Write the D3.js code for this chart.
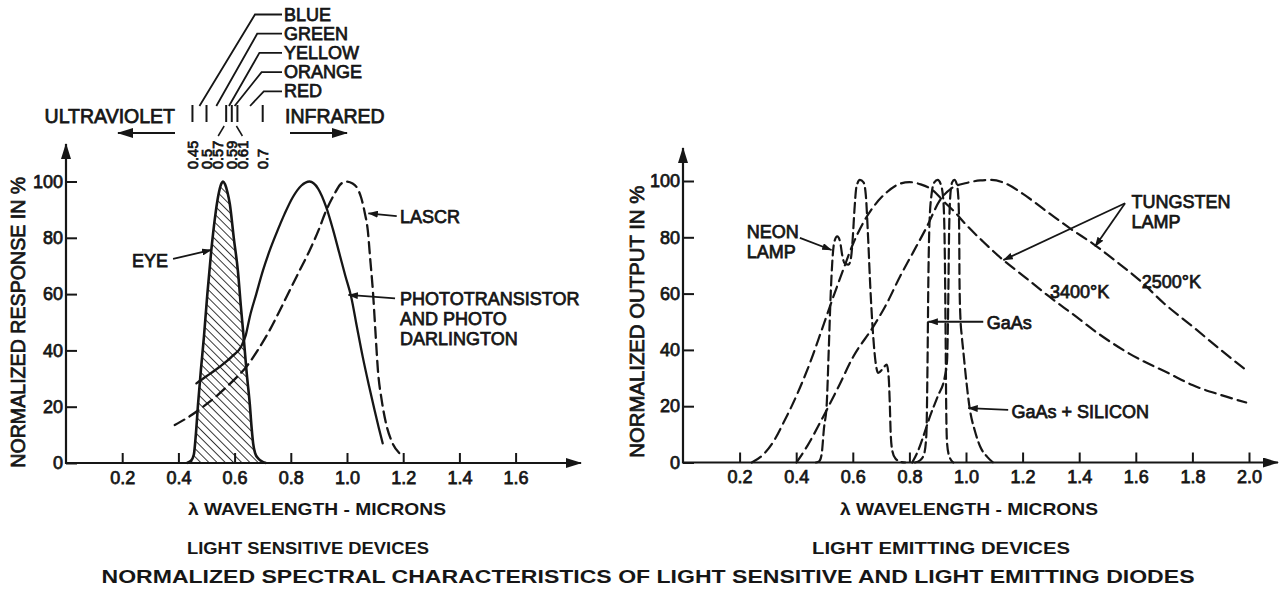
<!DOCTYPE html>
<html>
<head>
<meta charset="utf-8">
<script src="https://cdn.jsdelivr.net/npm/d3@7"></script>
<style>
body { margin: 0; background: #fff; }
svg text { font-family: "Liberation Sans", Arial, sans-serif; fill: #161616; }
.lbl { stroke: #161616; stroke-width: 0.75px; }
.cond { font-family: "Liberation Sans Narrow", "Liberation Sans", Arial, sans-serif; font-weight: bold; }
</style>
</head>
<body>
<div id="chart"></div>
<script>
// tick values
var yTicks = [0, 20, 40, 60, 80, 100];
var leftXTicks = [0.2, 0.4, 0.6, 0.8, 1.0, 1.2, 1.4, 1.6];
var rightXTicks = [0.2, 0.4, 0.6, 0.8, 1.0, 1.2, 1.4, 1.6, 1.8, 2.0];

// visible spectrum bands (microns)
var bandEdges = [0.45, 0.5, 0.57, 0.59, 0.61, 0.7];
var colorNames = ["BLUE", "GREEN", "YELLOW", "ORANGE", "RED"];

// light sensitive devices: [wavelength, response %]
var eyeCurve = [[0.43,0],[0.445,0.8],[0.455,3],[0.462,10],[0.47,21],[0.48,33],[0.491,45],[0.503,60],
    [0.517,75.5],[0.53,87],[0.542,95],[0.552,99],[0.559,100],[0.566,99],[0.575,96],[0.583,92],[0.597,80],
    [0.612,68],[0.622,56],[0.632,45],[0.643,32],[0.654,21],[0.661,12],[0.666,7],[0.673,3.5],[0.685,1.5],
    [0.7,0.4],[0.712,0]];
var phototransistorCurve = [[0.464,28.3],[0.5,30.8],[0.547,34.2],[0.59,37.8],[0.624,41.5],[0.64,45.5],
    [0.654,51.9],[0.677,60],[0.701,68.4],[0.725,75.5],[0.748,81.4],[0.778,88.5],[0.807,94.4],[0.837,98.5],
    [0.867,100],[0.897,97.5],[0.926,90.9],[0.95,83],[0.973,74.4],[0.994,66.5],[1.015,59],[1.035,48.5],
    [1.056,37.7],[1.077,28],[1.098,18.8],[1.113,12.5],[1.127,7]];
var lascrCurve = [[0.387,13.5],[0.44,16.6],[0.488,20],[0.53,23.3],[0.571,27],[0.608,30.5],[0.642,34.2],
    [0.685,40.5],[0.725,47.2],[0.76,54],[0.796,61.3],[0.832,68.5],[0.867,75.5],[0.9,83],[0.926,89.7],
    [0.955,95.5],[0.975,98.8],[0.997,100],[1.02,99.3],[1.04,97],[1.05,94.4],[1.063,89],[1.074,82.6],
    [1.083,72],[1.092,61.3],[1.101,47],[1.11,33],[1.124,22],[1.139,14],[1.16,7.5],[1.187,3.4]];

// light emitting devices: [wavelength, output %]
var neonCurve = [[0.47,0],[0.482,0.5],[0.49,3],[0.498,12],[0.508,21],[0.515,40],[0.522,60],[0.528,72],
    [0.535,78.5],[0.545,80.3],[0.555,78.5],[0.562,74],[0.572,70.6],[0.585,70.3],[0.594,73],[0.6,80],
    [0.606,90],[0.613,98],[0.625,100.4],[0.638,99.5],[0.646,95],[0.654,80],[0.662,62],[0.672,45],[0.68,36],
    [0.69,31.8],[0.705,33.2],[0.72,34.8],[0.727,30],[0.731,20],[0.734,10],[0.74,4],[0.75,1.5],[0.77,0.2],
    [0.785,0]];
var gaasCurve = [[0.82,0],[0.838,0.8],[0.852,3],[0.86,10],[0.864,35],[0.867,65],[0.871,85],[0.878,95],
    [0.888,99.5],[0.9,100.4],[0.912,98.5],[0.92,93],[0.925,75],[0.928,45],[0.93,20],[0.933,7],[0.94,2.5],
    [0.955,0]];
var gaasSiliconCurve = [[0.81,0],[0.83,4],[0.85,9.5],[0.872,16.2],[0.9,23.5],[0.925,30.4],[0.933,36],
    [0.937,55],[0.94,80],[0.944,94],[0.951,99.5],[0.959,100.4],[0.967,99],[0.973,94],[0.976,82],[0.977,65],
    [0.98,52],[0.985,45],[0.99,40],[1.0,30],[1.013,19.3],[1.032,11],[1.05,5.7],[1.075,2],[1.096,0]];
var tungsten3400Curve = [[0.243,0],[0.28,2.5],[0.32,7.5],[0.354,13.9],[0.4,23.5],[0.448,35.2],[0.49,47],
    [0.531,58.8],[0.568,69],[0.601,77.7],[0.636,85],[0.672,90.7],[0.72,96],[0.766,99],[0.8,99.6],
    [0.84,98.8],[0.884,96.6],[0.919,93],[0.96,89],[1.0,84.5],[1.06,78.5],[1.119,73],[1.2,66.5],
    [1.296,58.8],[1.38,52.5],[1.472,45.5],[1.58,38.5],[1.72,31.5],[1.8,27.5],[1.9,24],[1.99,21.3]];
var tungsten2500Curve = [[0.401,0],[0.44,6],[0.495,16.2],[0.55,27],[0.601,37.5],[0.672,48.2],[0.72,56.5],
    [0.766,65.9],[0.815,75],[0.861,83.6],[0.907,93],[0.95,97.5],[1.002,99.3],[1.05,100.2],[1.09,100.4],
    [1.143,99],[1.2,95.5],[1.296,88.4],[1.37,83],[1.449,77.7],[1.53,71.5],[1.614,64.7],[1.7,56.5],
    [1.802,48.2],[1.9,40],[1.99,32.8]];

function makeChart() {
    var ink = "#161616";
    var svg = d3
        .select("#chart")
        .append("svg")
        .attr("width", 1285)
        .attr("height", 590);

    var defs = svg.append("defs");
    defs.append("marker")
        .attr("id", "bigArrow")
        .attr("markerUnits", "userSpaceOnUse")
        .attr("markerWidth", 16)
        .attr("markerHeight", 10)
        .attr("refX", 15)
        .attr("refY", 5)
        .attr("orient", "auto")
        .append("path")
        .attr("d", "M0,0 L16,5 L0,10 Z")
        .attr("fill", ink);
    defs.append("marker")
        .attr("id", "ptr")
        .attr("markerUnits", "userSpaceOnUse")
        .attr("markerWidth", 10)
        .attr("markerHeight", 7)
        .attr("refX", 9.5)
        .attr("refY", 3.5)
        .attr("orient", "auto")
        .append("path")
        .attr("d", "M0,0 L10,3.5 L0,7 Z")
        .attr("fill", ink);
    defs.append("pattern")
        .attr("id", "hatch")
        .attr("patternUnits", "userSpaceOnUse")
        .attr("width", 5.8)
        .attr("height", 5.8)
        .attr("patternTransform", "rotate(-45)")
        .append("line")
        .attr("x1", 0).attr("y1", 0)
        .attr("x2", 0).attr("y2", 5.8)
        .attr("stroke", ink)
        .attr("stroke-width", 1.7);

    var xL = d3.scaleLinear().domain([0, 1]).range([66, 347]);
    var yL = d3.scaleLinear().domain([0, 100]).range([463, 181.5]);
    var xR = d3.scaleLinear().domain([0, 1]).range([683, 966]);
    var yR = d3.scaleLinear().domain([0, 100]).range([462.5, 181]);
    var fmt = d3.format(".1f");

    function drawAxes(x, y, xTicks, xEnd, yTop) {
        var gx = svg.append("g")
            .attr("transform", "translate(0," + y(0) + ")")
            .call(d3.axisBottom(x).tickValues(xTicks).tickFormat(fmt)
                .tickSizeInner(-10).tickSizeOuter(0).tickPadding(8));
        var gy = svg.append("g")
            .attr("transform", "translate(" + x(0) + ",0)")
            .call(d3.axisLeft(y).tickValues(yTicks)
                .tickSizeInner(-11).tickSizeOuter(0).tickPadding(3));
        [gx, gy].forEach((g) => {
            g.select(".domain").remove();
            g.attr("font-family", null);
            g.selectAll(".tick line").attr("stroke", ink).attr("stroke-width", 2);
            g.selectAll(".tick text")
                .attr("class", "lbl")
                .attr("font-size", 18);
        });

        svg.append("line")
            .attr("x1", x(0)).attr("y1", y(0))
            .attr("x2", xEnd).attr("y2", y(0))
            .attr("stroke", ink).attr("stroke-width", 2.2)
            .attr("marker-end", "url(#bigArrow)");
        svg.append("line")
            .attr("x1", x(0)).attr("y1", y(0) + 1)
            .attr("x2", x(0)).attr("y2", yTop)
            .attr("stroke", ink).attr("stroke-width", 2.2)
            .attr("marker-end", "url(#bigArrow)");
    }

    drawAxes(xL, yL, leftXTicks, 581, 144);
    drawAxes(xR, yR, rightXTicks, 1278, 148);

    // y axis titles
    svg.append("text")
        .attr("class", "lbl")
        .attr("transform", "translate(25," + (yL(0) + yL(100)) / 2 + ") rotate(-90)")
        .attr("text-anchor", "middle")
        .attr("font-size", 20)
        .attr("textLength", 291)
        .attr("lengthAdjust", "spacingAndGlyphs")
        .text("NORMALIZED RESPONSE IN %");
    svg.append("text")
        .attr("class", "lbl")
        .attr("transform", "translate(643.5," + (yR(0) + yR(100)) / 2 + ") rotate(-90)")
        .attr("text-anchor", "middle")
        .attr("font-size", 20)
        .attr("textLength", 272)
        .attr("lengthAdjust", "spacingAndGlyphs")
        .text("NORMALIZED OUTPUT IN %");

    // eye response, hatched
    var eyeArea = d3.area()
        .curve(d3.curveMonotoneX)
        .x((d) => xL(d[0]))
        .y0(yL(0))
        .y1((d) => yL(d[1]));
    svg.append("path")
        .datum(eyeCurve)
        .attr("d", eyeArea)
        .attr("fill", "url(#hatch)");
    svg.append("path")
        .datum(eyeCurve)
        .attr("d", d3.line().curve(d3.curveMonotoneX).x((d) => xL(d[0])).y((d) => yL(d[1])))
        .attr("fill", "none")
        .attr("stroke", ink)
        .attr("stroke-width", 2.6);

    function curve(data, x, y, dash, width) {
        svg.append("path")
            .datum(data)
            .attr("d", d3.line().curve(d3.curveMonotoneX).x((d) => x(d[0])).y((d) => y(d[1])))
            .attr("fill", "none")
            .attr("stroke", ink)
            .attr("stroke-width", width)
            .attr("stroke-linecap", "round")
            .attr("stroke-dasharray", dash);
    }

    curve(phototransistorCurve, xL, yL, null, 2.3);
    curve(lascrCurve, xL, yL, "11,6", 2.3);

    curve(tungsten3400Curve, xR, yR, "11,6", 2.2);
    curve(tungsten2500Curve, xR, yR, "11,6", 2.2);
    curve(neonCurve, xR, yR, "10,5", 2.2);
    curve(gaasCurve, xR, yR, "10,5", 2.2);
    curve(gaasSiliconCurve, xR, yR, "10,5", 2.2);

    // annotations
    function pointer(x, y, from, to) {
        svg.append("line")
            .attr("x1", x(from[0])).attr("y1", y(from[1]))
            .attr("x2", x(to[0])).attr("y2", y(to[1]))
            .attr("stroke", ink).attr("stroke-width", 1.8)
            .attr("marker-end", "url(#ptr)");
    }
    function label(x, y, pos, lines, size) {
        var t = svg.append("text")
            .attr("class", "lbl")
            .attr("x", x(pos[0]))
            .attr("y", y(pos[1]))
            .attr("font-size", size || 18);
        lines.forEach((s, i) => {
            t.append("tspan")
                .attr("x", x(pos[0]))
                .attr("dy", i === 0 ? 0 : 20)
                .text(s);
        });
    }

    label(xL, yL, [0.235, 69.6], ["EYE"]);
    pointer(xL, yL, [0.381, 72.5], [0.518, 75.7]);
    label(xL, yL, [1.189, 85.2], ["LASCR"]);
    pointer(xL, yL, [1.177, 87.7], [1.076, 88.7]);
    label(xL, yL, [1.189, 56.1], ["PHOTOTRANSISTOR", "AND PHOTO", "DARLINGTON"]);
    pointer(xL, yL, [1.171, 58.5], [1.005, 59.7]);

    label(xR, yR, [0.225, 79.6], ["NEON", "LAMP"]);
    pointer(xR, yR, [0.413, 79.8], [0.525, 75.5]);
    label(xR, yR, [1.585, 90.3], ["TUNGSTEN", "LAMP"]);
    pointer(xR, yR, [1.562, 92.1], [1.132, 71.9]);
    pointer(xR, yR, [1.562, 92.1], [1.456, 76.7]);
    label(xR, yR, [1.621, 61.9], ["2500°K"]);
    label(xR, yR, [1.297, 58.3], ["3400°K"]);
    label(xR, yR, [1.073, 47.3], ["GaAs"]);
    pointer(xR, yR, [1.061, 50], [0.867, 50]);
    label(xR, yR, [1.161, 15.7], ["GaAs + SILICON"]);
    pointer(xR, yR, [1.149, 18.7], [1.008, 19.3]);

    // spectrum band markers above the left chart
    var barTop = 105, barBottom = 122;
    svg.selectAll(".band-bar")
        .data(bandEdges)
        .enter()
        .append("line")
        .attr("x1", (d) => xL(d)).attr("x2", (d) => xL(d))
        .attr("y1", barTop).attr("y2", barBottom)
        .attr("stroke", ink).attr("stroke-width", 2);

    var nudge = { 0.57: -8, 0.61: 5 };
    svg.selectAll(".band-val")
        .data(bandEdges)
        .enter()
        .append("text")
        .attr("class", "lbl")
        .attr("font-size", 14.5)
        .attr("dy", "0.36em")
        .attr("transform", (d) => "translate(" + (xL(d) + (nudge[d] || 0)) + ",169) rotate(-90)")
        .text((d) => String(d));
    svg.selectAll(".band-link")
        .data(bandEdges.filter((d) => nudge[d]))
        .enter()
        .append("line")
        .attr("x1", (d) => xL(d) + (nudge[d] > 0 ? -1 : -2)).attr("y1", 126)
        .attr("x2", (d) => xL(d) + nudge[d]).attr("y2", 136)
        .attr("stroke", ink).attr("stroke-width", 1.5);

    colorNames.forEach((name, i) => {
        var base = 20.5 + i * 19.2;
        var mid = xL((bandEdges[i] + bandEdges[i + 1]) / 2);
        var elbow = 255 + i * 2.2;
        svg.append("polyline")
            .attr("points", [[mid, barTop + 1], [elbow, base - 6], [282, base - 6]].join(" "))
            .attr("fill", "none")
            .attr("stroke", ink)
            .attr("stroke-width", 1.8);
        svg.append("text")
            .attr("class", "lbl")
            .attr("x", 284)
            .attr("y", base)
            .attr("font-size", 18)
            .text(name);
    });

    svg.append("text")
        .attr("class", "lbl")
        .attr("x", 175).attr("y", 123)
        .attr("text-anchor", "end")
        .attr("font-size", 19.5)
        .text("ULTRAVIOLET");
    svg.append("text")
        .attr("class", "lbl")
        .attr("x", 285).attr("y", 123)
        .attr("font-size", 19.5)
        .text("INFRARED");
    svg.append("line")
        .attr("x1", 175).attr("y1", 133).attr("x2", 118).attr("y2", 133)
        .attr("stroke", ink).attr("stroke-width", 2)
        .attr("marker-end", "url(#bigArrow)");
    svg.append("line")
        .attr("x1", 290).attr("y1", 133).attr("x2", 347).attr("y2", 133)
        .attr("stroke", ink).attr("stroke-width", 2)
        .attr("marker-end", "url(#bigArrow)");

    // titles
    [317, 969].forEach((mid) => {
        svg.append("text")
            .attr("class", "cond")
            .attr("x", mid).attr("y", 515)
            .attr("text-anchor", "middle")
            .attr("font-size", 17)
            .attr("textLength", 258)
            .attr("lengthAdjust", "spacingAndGlyphs")
            .text("λ WAVELENGTH - MICRONS");
    });
    svg.append("text")
        .attr("class", "cond")
        .attr("x", 187).attr("y", 554)
        .attr("font-size", 17)
        .attr("textLength", 242)
        .attr("lengthAdjust", "spacingAndGlyphs")
        .text("LIGHT SENSITIVE DEVICES");
    svg.append("text")
        .attr("class", "cond")
        .attr("x", 812).attr("y", 554)
        .attr("font-size", 17)
        .attr("textLength", 258)
        .attr("lengthAdjust", "spacingAndGlyphs")
        .text("LIGHT EMITTING DEVICES");
    svg.append("text")
        .attr("class", "cond")
        .attr("x", 648).attr("y", 583)
        .attr("text-anchor", "middle")
        .attr("font-size", 19)
        .attr("textLength", 1093)
        .attr("lengthAdjust", "spacingAndGlyphs")
        .text("NORMALIZED SPECTRAL CHARACTERISTICS OF LIGHT SENSITIVE AND LIGHT EMITTING DIODES");
}

makeChart();
</script>
</body>
</html>
